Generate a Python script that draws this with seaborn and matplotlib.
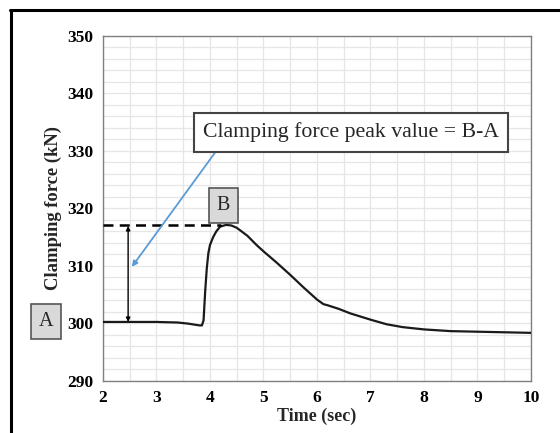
import numpy as np
import pandas as pd
import matplotlib
matplotlib.use("Agg")
import matplotlib.pyplot as plt
from matplotlib.ticker import MultipleLocator
from matplotlib.lines import Line2D
import seaborn as sns

# clamping force trace
time_sec = [2.0, 2.5, 3.0, 3.4, 3.6, 3.8, 3.85, 3.88, 3.91, 3.94, 3.97, 4.0, 4.06,
            4.12, 4.19, 4.3, 4.4, 4.5, 4.7, 4.87, 5.0, 5.25, 5.5, 5.75, 6.0,
            6.12, 6.2, 6.4, 6.62, 7.0, 7.3, 7.6, 8.0, 8.5, 9.0, 9.5, 10.0]
force_kn = [300.2, 300.2, 300.2, 300.1, 299.9, 299.6, 299.6, 300.5, 305.5, 309.5,
            312.2, 313.6, 315.0, 316.0, 316.8, 317.1, 317.0, 316.6, 315.2, 313.6,
            312.5, 310.5, 308.4, 306.2, 304.1, 303.3, 303.1, 302.5, 301.7, 300.6,
            299.8, 299.3, 298.9, 298.6, 298.5, 298.4, 298.3]

point_a = 300.2
point_b = 317.1

df = pd.DataFrame({"Time": time_sec, "Force": force_kn})

sns.set_theme(style="white")
plt.rcParams["font.family"] = ["Liberation Serif", "DejaVu Serif"]

fig = plt.figure(figsize=(5.6, 4.33), dpi=100)
ax = fig.add_axes([0.1839, 0.1212, 0.7643, 0.7957])

sns.lineplot(data=df, x="Time", y="Force", ax=ax, color="#1a1a1a", lw=1.6, zorder=5)

ax.set_xlim(2, 10)
ax.set_ylim(290, 350)
ax.xaxis.set_major_locator(MultipleLocator(1))
ax.xaxis.set_minor_locator(MultipleLocator(0.5))
ax.yaxis.set_major_locator(MultipleLocator(10))
ax.yaxis.set_minor_locator(MultipleLocator(2))
ax.grid(which="both", color="#e6e6e6", lw=0.9, zorder=0)
ax.set_axisbelow(True)
for s in ax.spines.values():
    s.set_color("#808080")
    s.set_linewidth(1.0)
ax.tick_params(which="both", direction="out", color="#808080", width=1.0)
ax.tick_params(which="major", length=4, labelsize=12.5, pad=3, labelcolor="black")
ax.tick_params(which="minor", length=3)
for lab in ax.get_xticklabels() + ax.get_yticklabels():
    lab.set_fontweight("bold")

ax.set_xlabel("Time (sec)", fontsize=13, fontweight="bold", labelpad=1)
ax.set_ylabel("Clamping force (kN)", fontsize=13.4, fontweight="bold", labelpad=4)

# peak reference and B-A span
ax.plot([2, 4.2], [point_b, point_b], color="black", lw=1.8, ls=(0, (4, 2.5)), zorder=6)
ax.annotate("", xy=(2.47, point_a), xytext=(2.47, point_b - 0.2),
            arrowprops=dict(arrowstyle="<|-|>", color="black", lw=1.0,
                            mutation_scale=6, shrinkA=0, shrinkB=0), zorder=6)

ax.annotate("Clamping force peak value = B-A", xy=(2.54, 309.8), xytext=(6.64, 333.2),
            ha="center", va="center", fontsize=15.7,
            bbox=dict(boxstyle="square,pad=0.42", fc="white", ec="#444444", lw=1.5),
            arrowprops=dict(arrowstyle="-|>", color="#5b9bd5", lw=1.3,
                            mutation_scale=8, shrinkA=0, shrinkB=0,
                            relpos=(0.065, 0.0)), zorder=7)

ax.text(4.25, 320.5, "B", ha="center", va="center", fontsize=14.5, zorder=7,
        bbox=dict(boxstyle="square,pad=0.38", fc="#d9d9d9", ec="#555555", lw=1.2))
ax.text(0.935, 300.3, "A", ha="center", va="center", fontsize=14.5, clip_on=False,
        bbox=dict(boxstyle="square,pad=0.38", fc="#d9d9d9", ec="#555555", lw=1.2))

# cropped screenshot frame: left and top edges
fig.add_artist(Line2D([11 / 560, 11 / 560], [0, 1 - 10 / 433], color="black", lw=2.2))
fig.add_artist(Line2D([10 / 560, 1], [1 - 10 / 433, 1 - 10 / 433], color="black", lw=2.2))

fig.savefig("out.png", dpi=100)
